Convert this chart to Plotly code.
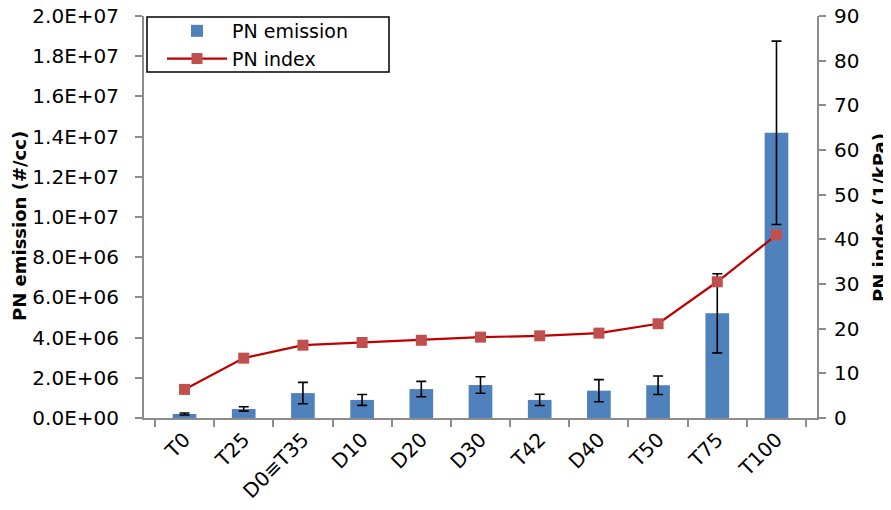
import plotly.graph_objects as go

categories = ["T0", "T25", "D0\u2261T35", "D10", "D20", "D30", "T42", "D40", "T50", "T75", "T100"]
pn_emission = [0.20e6, 0.45e6, 1.24e6, 0.90e6, 1.44e6, 1.64e6, 0.90e6, 1.36e6, 1.63e6, 5.21e6, 14.19e6]
pn_emission_err = [0.05e6, 0.11e6, 0.53e6, 0.27e6, 0.38e6, 0.41e6, 0.28e6, 0.55e6, 0.46e6, 1.97e6, 4.56e6]
pn_index = [6.4, 13.4, 16.3, 16.9, 17.4, 18.1, 18.4, 19.0, 21.1, 30.5, 41.0]

left_tickvals = [0, 2e6, 4e6, 6e6, 8e6, 1e7, 1.2e7, 1.4e7, 1.6e7, 1.8e7, 2e7]
left_ticktext = ["0.0E+00", "2.0E+06", "4.0E+06", "6.0E+06", "8.0E+06", "1.0E+07",
                 "1.2E+07", "1.4E+07", "1.6E+07", "1.8E+07", "2.0E+07"]

FONT = "DejaVu Sans, Verdana, sans-serif"
AXIS_GRAY = "#8c8c8c"
FS = 20

# The page body has an 8px default margin; size the figure so it fits the window.
PAGE_W, PAGE_H, OFF = 891, 510, 8
FIG_W, FIG_H = PAGE_W - OFF, PAGE_H - OFF
# plot area in page pixels (used only to convert layout positions to paper coords)
PL, PR, PT, PB = 144, 817, 16, 418
def px_x(x):
    return (x - PL) / (PR - PL)
def px_y(y):
    return (PB - y) / (PB - PT)

fig = go.Figure()
fig.add_trace(go.Bar(
    x=categories, y=pn_emission, name="PN emission",
    marker=dict(color="#4F81BD", line=dict(width=0)),
    width=0.4,
    error_y=dict(type="data", array=pn_emission_err, visible=True,
                 color="black", thickness=1.6, width=5),
    yaxis="y",
))
fig.add_trace(go.Scatter(
    x=categories, y=pn_index, name="PN index", mode="lines+markers",
    line=dict(color="#C00000", width=2.2),
    marker=dict(symbol="square", size=11, color="#C0504D"),
    yaxis="y2",
))

fig.update_layout(
    width=FIG_W, height=FIG_H,
    margin=dict(l=PL - OFF, r=PAGE_W - PR, t=PT - OFF, b=PAGE_H - PB,
                autoexpand=False),
    paper_bgcolor="white", plot_bgcolor="white",
    font=dict(family=FONT, size=FS, color="black"),
    showlegend=True,
    legend=dict(x=px_x(162), y=px_y(12), xanchor="left", yanchor="top",
                borderwidth=0, bgcolor="rgba(0,0,0,0)",
                font=dict(size=19), itemwidth=60, tracegroupgap=0),
    shapes=[dict(type="rect", xref="paper", yref="paper",
                 x0=px_x(147), x1=px_x(389), y0=px_y(72), y1=px_y(17),
                 line=dict(color="black", width=1.5), fillcolor="white",
                 layer="below")],
    xaxis=dict(
        type="category", showline=True, linecolor=AXIS_GRAY, linewidth=2,
        ticks="outside", ticklen=7, tickcolor=AXIS_GRAY, tickwidth=2,
        tickson="boundaries", tickangle=-45, showgrid=False, zeroline=False,
        tickfont=dict(size=FS), ticklabelstandoff=0,
    ),
    yaxis=dict(
        range=[0, 2e7], tickvals=left_tickvals, ticktext=left_ticktext,
        showline=True, linecolor=AXIS_GRAY, linewidth=2,
        ticks="outside", ticklen=7, tickcolor=AXIS_GRAY, tickwidth=2,
        showgrid=False, zeroline=False, ticklabelstandoff=12,
        ticklabeloverflow="allow",
        tickfont=dict(size=FS),
    ),
    yaxis2=dict(
        range=[0, 90], dtick=10, overlaying="y", side="right",
        showline=True, linecolor=AXIS_GRAY, linewidth=2,
        ticks="outside", ticklen=7, tickcolor=AXIS_GRAY, tickwidth=2,
        showgrid=False, zeroline=False, ticklabelstandoff=4,
        ticklabeloverflow="allow",
        tickfont=dict(size=FS),
    ),
    annotations=[
        dict(text="<b>PN emission (#/cc)</b>", xref="paper", yref="paper",
             x=px_x(20), y=px_y(226), xanchor="center", yanchor="middle",
             textangle=-90, showarrow=False, font=dict(size=18)),
        dict(text="<b>PN index (1/kPa)</b>", xref="paper", yref="paper",
             x=px_x(879), y=px_y(217), xanchor="center", yanchor="middle",
             textangle=-90, showarrow=False, font=dict(size=18)),
    ],
)

fig.write_html("out.html")
